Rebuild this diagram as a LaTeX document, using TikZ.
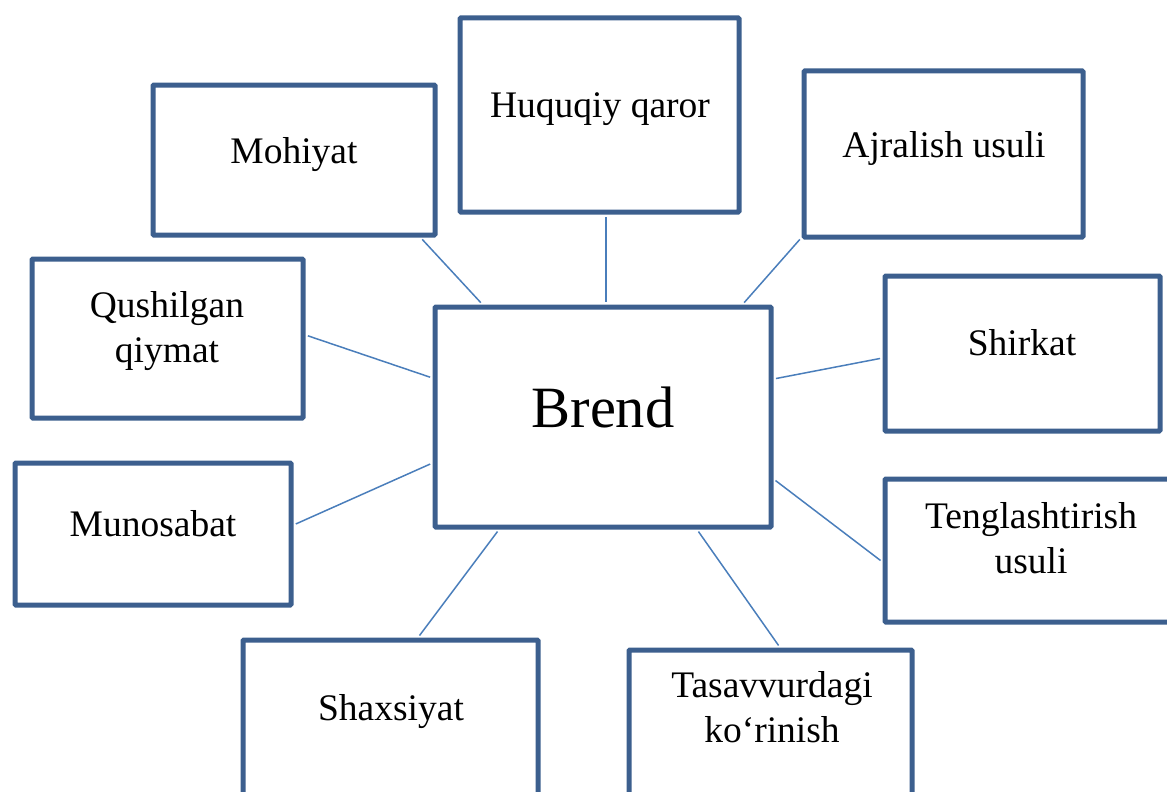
\documentclass[tikz,border=0pt]{standalone}
\usepackage{fontspec}
\setmainfont{Liberation Serif}
\definecolor{boxblue}{HTML}{3C5F8E}
\definecolor{linkblue}{HTML}{4A7EBB}
\begin{document}
\begin{tikzpicture}[x=1pt,y=-1pt,
  box/.style={draw=boxblue,line width=5pt,rounded corners=1pt,inner sep=0pt,fill=white},
  txt/.style={font=\fontsize{37.5}{45}\selectfont,align=center,inner sep=0pt,anchor=base},
  link/.style={draw=linkblue,line width=1.5pt,shorten <=2.5pt,shorten >=2.5pt}]
\useasboundingbox (0,0) rectangle (1167,792);
\clip (0,0) rectangle (1167,792);

% boxes
\node[box,minimum width=336pt,minimum height=220pt] (brend) at (603,417) {};
\node[box,minimum width=282pt,minimum height=150pt] (mohiyat) at (294,160) {};
\node[box,minimum width=279pt,minimum height=194pt] (huquqiy) at (599.5,115) {};
\node[box,minimum width=279pt,minimum height=166pt] (ajralish) at (943.5,154) {};
\node[box,minimum width=271pt,minimum height=159pt] (qushilgan) at (167.5,338.5) {};
\node[box,minimum width=275pt,minimum height=155pt] (shirkat) at (1022.5,353.5) {};
\node[box,minimum width=276pt,minimum height=142pt] (munosabat) at (153,534) {};
\node[box,minimum width=296pt,minimum height=143pt] (tenglash) at (1033,550.5) {};
\node[box,minimum width=295pt,minimum height=170pt] (shaxsiyat) at (390.5,725) {};
\node[box,minimum width=283pt,minimum height=160pt] (tasavvur) at (770.5,730) {};

% labels (base anchor = baseline of the last line)
\node[txt,font=\fontsize{58.5}{70}\selectfont] (brendT) at (603,427) {Brend};
\node[txt] (mohiyatT) at (294,163) {Mohiyat};
\node[txt] (huquqiyT) at (600,117) {Huquqiy qaror};
\node[txt] (ajralishT) at (944,157) {Ajralish usuli};
\node[txt] (qushilganT) at (167,362) {Qushilgan\\qiymat};
\node[txt] (shirkatT) at (1022,355) {Shirkat};
\node[txt] (munosabatT) at (153,536) {Munosabat};
\node[txt] (tenglashT) at (1031,573) {Tenglashtirish\\usuli};
\node[txt] (shaxsiyatT) at (391,720) {Shaxsiyat};
\node[txt] (tasavvurT) at (772,742) {Tasavvurdagi\\ko‘rinish};

% connectors from the outer boxes to the centre box
\draw[link] ([xshift=-17pt]mohiyat.south east) -- ([xshift=50pt]brend.north west);
\draw[link] ([xshift=6.5pt]huquqiy.south) -- ([xshift=3pt]brend.north);
\draw[link] ([yshift=2pt]ajralish.south west) -- ([xshift=-31pt]brend.north east);
\draw[link] ([yshift=3.5pt]qushilgan.east) -- ([yshift=39pt]brend.west);
\draw[link] ([yshift=-4.5pt]shirkat.west) -- ([yshift=38pt]brend.east);
\draw[link] ([yshift=9pt]munosabat.east) -- ([yshift=-46pt]brend.west);
\draw[link] ([yshift=-11.5pt]tenglash.west) -- ([yshift=-62pt]brend.east);
\draw[link] ([xshift=27.5pt]shaxsiyat.north) -- ([xshift=-104pt]brend.south);
\draw[link] ([xshift=9.5pt]tasavvur.north) -- ([xshift=94pt]brend.south);
\end{tikzpicture}
\end{document}
